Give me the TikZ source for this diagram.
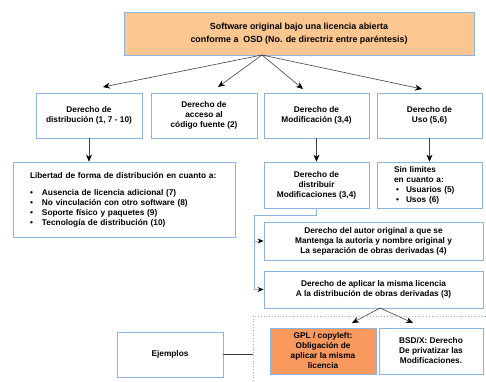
\documentclass[tikz,border=0pt]{standalone}
\usepackage{fontspec}
\setsansfont{Liberation Sans}
\usetikzlibrary{arrows.meta}
\definecolor{borde}{HTML}{8DB3E2}
\definecolor{naranja}{HTML}{FBC690}
\definecolor{naranjafuerte}{HTML}{F9985F}
\definecolor{linea}{HTML}{404040}
\begin{document}
\begin{tikzpicture}[x=1pt,y=-1pt,
  caja/.style={draw=borde,line width=0.8pt,fill=white,inner sep=0pt,align=center,
    font=\sffamily\bfseries\fontsize{8.3}{10}\selectfont},
  flecha/.style={draw=linea,line width=0.6pt,-{Stealth[length=7pt,width=6pt,color=black]}},
  ramal/.style={draw=borde,line width=0.8pt,-{Stealth[length=6pt,width=5pt,color=black]}}]
  \useasboundingbox (0,0) rectangle (486,381);
  \node[caja,fill=naranja,minimum width=350pt,minimum height=43pt,
    font=\sffamily\bfseries\fontsize{8.9}{12.5}\selectfont] (sw) at (299,33.5)
    {Software original bajo una licencia abierta\\conforme a\ \ OSD (No. de directriz entre paréntesis)};
  \node[caja,minimum width=106pt,minimum height=45pt] (dist) at (89,115.5) {Derecho de\\distribución (1, 7 - 10)};
  \node[caja,minimum width=106pt,minimum height=45pt] (acceso) at (204,115.5) {Derecho de\\acceso al\\código fuente (2)};
  \node[caja,minimum width=105pt,minimum height=45pt] (modif) at (316.5,115.5) {Derecho de\\Modificación (3,4)};
  \node[caja,minimum width=105pt,minimum height=45pt] (uso) at (429.5,115.5) {Derecho de\\Uso (5,6)};
  \node[caja,minimum width=222pt,minimum height=75pt,text width=188pt,align=left] (lib) at (124,199.5)
    {Libertad de forma de distribución en cuanto a:\\[7pt]
     \makebox[12pt][l]{\textbullet}Ausencia de licencia adicional (7)\\
     \makebox[12pt][l]{\textbullet}No vinculación con otro software (8)\\
     \makebox[12pt][l]{\textbullet}Soporte físico y paquetes (9)\\
     \makebox[12pt][l]{\textbullet}Tecnología de distribución (10)};
  \node[caja,minimum width=105pt,minimum height=46pt] (dmod) at (316.5,185) {Derecho de\\distribuir\\Modificaciones (3,4)};
  \node[caja,minimum width=105pt,minimum height=46pt,text width=71pt,align=left] (sin) at (429.5,185)
    {Sin limites\\en cuanto a:\\
     \hspace*{2pt}\makebox[10pt][l]{\textbullet}Usuarios (5)\\
     \hspace*{2pt}\makebox[10pt][l]{\textbullet}Usos (6)};
  \node[caja,minimum width=219pt,minimum height=38pt] (autor) at (373.5,241)
    {Derecho del autor original a que se\\Mantenga la autoría y nombre original y\\La separación de obras derivadas (4)};
  \node[caja,minimum width=219pt,minimum height=37pt] (aplicar) at (373.5,289.5)
    {Derecho de aplicar la misma licencia\\A la distribución de obras derivadas (3)};
  \node[caja,fill=naranjafuerte,minimum width=106pt,minimum height=46pt] (gpl) at (323,351)
    {GPL / copyleft:\\Obligación de\\aplicar la misma\\licencia};
  \node[caja,minimum width=104pt,minimum height=46pt] (bsd) at (431,351)
    {BSD/X: Derecho\\De privatizar las\\Modificaciones.};
  \node[caja,minimum width=106pt,minimum height=45pt] (ejem) at (170,354.5) {Ejemplos};
  \coordinate (origen) at (262,55);
  \coordinate (p1) at (103,87);
  \coordinate (p2) at (218,87);
  \coordinate (p3) at (303,89);
  \coordinate (p4) at (422,89);
  \draw[flecha] (origen) -- (p1);
  \draw[flecha] (origen) -- (p2);
  \draw[flecha] (origen) -- (p3);
  \draw[flecha] (origen) -- (p4);
  \draw[flecha] (dist.south) -- (dist.south |- lib.north);
  \draw[flecha] (modif) -- (dmod);
  \draw[flecha] (uso) -- (sin);
  \coordinate (bus) at (254,215);
  \draw[borde,line width=0.8pt] (dmod.south) |- (bus) -- (bus |- aplicar.west);
  \draw[ramal] (bus |- autor.west) -- (autor.west);
  \draw[ramal] (bus |- aplicar.west) -- (aplicar.west);
  \coordinate (salida) at (380,308);
  \coordinate (q1) at (352,323);
  \coordinate (q2) at (413,323);
  \draw[flecha] (salida) -- (q1);
  \draw[flecha] (salida) -- (q2);
  \draw[borde,dotted,line width=0.8pt] (253,381) |- (486,316);
  \coordinate (marco) at (253,354.5);
  \draw[linea,line width=0.6pt] (ejem.east) -- (marco);
\end{tikzpicture}
\end{document}
